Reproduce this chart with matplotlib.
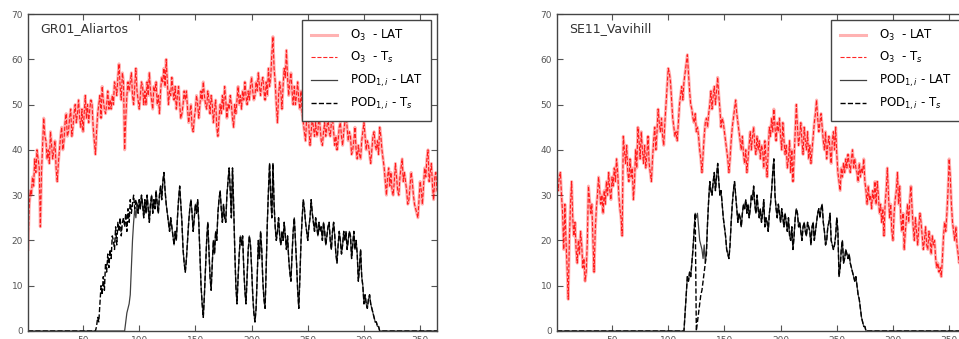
import numpy as np
import matplotlib
matplotlib.use("Agg")
from matplotlib import pyplot as plt

# day of year
days = np.arange(1, 366)

# GR01_Aliartos, O3 (LAT), one value per day
o3_gr = [
    18, 27, 31, 30, 34, 32, 38, 35, 40, 38,
    36, 23, 35, 41, 47, 43, 42, 38, 40, 37,
    44, 41, 38, 40, 42, 36, 33, 37, 40, 43,
    45, 40, 42, 46, 48, 43, 44, 47, 49, 43,
    45, 48, 50, 46, 48, 51, 47, 45, 49, 44,
    48, 52, 47, 50, 46, 49, 51, 50, 45, 42,
    39, 44, 48, 50, 52, 47, 54, 51, 49, 48,
    50, 53, 49, 51, 49, 52, 50, 55, 54, 52,
    56, 59, 54, 51, 57, 55, 40, 47, 52, 55,
    53, 55, 57, 52, 50, 54, 58, 53, 51, 49,
    52, 55, 54, 50, 53, 50, 55, 52, 57, 53,
    51, 49, 54, 53, 55, 50, 52, 48, 53, 56,
    55, 58, 54, 60, 55, 50, 53, 52, 56, 53,
    51, 54, 49, 52, 54, 50, 47, 48, 50, 53,
    51, 53, 49, 46, 48, 50, 45, 44, 47, 49,
    52, 50, 47, 50, 53, 51, 55, 52, 50, 49,
    53, 51, 48, 52, 50, 46, 49, 51, 45, 43,
    47, 50, 48, 52, 49, 54, 51, 47, 50, 49,
    52, 50, 47, 45, 50, 48, 51, 54, 50, 52,
    49, 53, 51, 55, 52, 50, 53, 51, 54, 56,
    53, 51, 52, 55, 53, 57, 54, 52, 55, 56,
    53, 51, 55, 52, 58, 54, 56, 61, 65, 58,
    55, 50, 46, 52, 55, 53, 49, 54, 58, 56,
    62, 56, 52, 55, 57, 53, 50, 54, 50, 52,
    55, 51, 49, 53, 48, 46, 44, 42, 47, 50,
    45, 41, 44, 47, 45, 43, 46, 43, 44, 48,
    45, 42, 41, 44, 46, 43, 45, 47, 44, 43,
    46, 47, 44, 41, 43, 40, 42, 45, 46, 43,
    41, 44, 46, 48, 45, 42, 44, 43, 39, 40,
    42, 45, 40, 38, 41, 39, 38, 42, 44, 46,
    43, 40, 42, 41, 39, 37, 40, 43, 44, 41,
    40, 42, 39, 45, 43, 40, 38, 36, 33, 30,
    34, 36, 32, 35, 31, 30, 33, 37, 34, 31,
    30, 34, 36, 38, 33, 35, 33, 31, 28, 29,
    32, 35, 33, 30, 28, 27, 26, 25, 29, 33,
    31, 28, 32, 36, 34, 38, 40, 33, 35, 37,
    32, 29, 34, 35, 31,
]

# GR01 POD, LAT from day 87, Ts from day 61 (zero outside)
pod_gr_lat_start = 87
pod_gr_lat = [
    0, 2, 4, 5, 6, 8, 14, 20, 24, 27, 25, 28, 26, 29,
    27, 30, 28, 25, 29, 26, 30, 27, 24, 28,
    30, 26, 29, 27, 31, 28, 26, 30, 32, 29,
    33, 35, 31, 28, 26, 24, 22, 25, 23, 21,
    19, 22, 20, 25, 29, 32, 28, 24, 18, 15,
    13, 16, 20, 24, 27, 29, 26, 22, 25, 28,
    26, 29, 24, 17, 10, 6, 3, 8, 14, 20,
    24, 18, 12, 9, 15, 20, 17, 22, 20, 26,
    29, 31, 27, 24, 28, 25, 24, 30, 33, 36,
    31, 25, 36, 28, 18, 10, 6, 12, 17, 21,
    19, 21, 14, 9, 6, 12, 18, 21, 19, 14,
    8, 4, 2, 5, 12, 20, 16, 22, 18, 11,
    7, 5, 14, 24, 31, 37, 30, 25, 37, 28,
    23, 20, 22, 25, 21, 19, 22, 20, 24, 21,
    18, 21, 16, 13, 11, 17, 22, 25, 20, 15,
    9, 5, 12, 20, 25, 29, 27, 24, 22, 20,
    23, 25, 29, 26, 24, 22, 25, 23, 21, 24,
    22, 23, 20, 24, 22, 19, 21, 23, 24, 20,
    18, 22, 24, 21, 17, 15, 19, 22, 20, 17,
    19, 22, 20, 22, 18, 20, 22, 21, 16, 19,
    22, 18, 20, 17, 11, 14, 18, 12, 10, 6,
    8, 6, 5, 7, 8, 6, 5, 4, 3, 2,
    2, 1, 1, 0, 0, 0,
]
pod_gr_ts_start = 61
pod_gr_ts_early = [
    0, 1, 3, 2, 6, 10, 8, 12, 9, 15,
    13, 17, 14, 18, 16, 21, 20, 18, 23, 19,
    24, 22, 25, 21, 24, 25, 23, 26, 22, 27,
    24, 29, 26, 28, 30, 27, 29,
]

# SE11_Vavihill, O3 (LAT)
o3_se = [
    33, 31, 34, 35, 30, 26, 18, 28, 20, 14,
    7, 20, 28, 33, 25, 21, 24, 18, 15, 20,
    17, 22, 19, 14, 16, 11, 13, 20, 32, 29,
    26, 28, 20, 13, 22, 27, 30, 34, 31, 28,
    30, 26, 31, 28, 33, 30, 35, 31, 29, 34,
    32, 36, 33, 38, 35, 30, 27, 25, 21, 43,
    40, 37, 41, 35, 33, 38, 34, 36, 29, 33,
    40, 36, 45, 42, 38, 44, 40, 37, 41, 36,
    39, 43, 37, 35, 33, 38, 42, 45, 40, 44,
    49, 46, 44, 47, 43, 41, 46, 50, 54, 58,
    57, 55, 51, 47, 45, 43, 44, 42, 46, 50,
    52, 54, 51, 55, 57, 59, 61, 57, 53, 50,
    49, 47, 46, 48, 44, 45, 43, 40, 38, 35,
    39, 43, 46, 47, 45, 48, 50, 53, 49, 52,
    54, 50, 53, 56, 52, 49, 45, 47, 46, 44,
    42, 40, 38, 35, 38, 42, 45, 47, 49, 51,
    48, 46, 44, 42, 40, 43, 39, 37, 40, 35,
    38, 41, 44, 40, 43, 45, 41, 39, 43, 40,
    42, 38, 41, 40, 36, 42, 38, 34, 40, 45,
    43, 47, 44, 49, 45, 42, 46, 44, 47, 43,
    40, 46, 42, 39, 41, 36, 38, 42, 35, 40,
    33, 38, 44, 50, 45, 41, 43, 46, 42, 39,
    45, 42, 40, 44, 38, 41, 37, 40, 43, 46,
    48, 51, 47, 44, 46, 48, 45, 42, 40, 44,
    38, 41, 43, 40, 37, 42, 44, 40, 45, 39,
    35, 33, 31, 36, 34, 37, 35, 38, 36, 39,
    37, 35, 38, 40, 36, 38, 36, 35, 33, 37,
    34, 36, 35, 38, 33, 31, 28, 32, 29, 30,
    27, 31, 29, 33, 28, 33, 30, 26, 28, 24,
    27, 21, 28, 31, 36, 30, 25, 28, 22, 20,
    26, 29, 31, 35, 28, 32, 25, 22, 26, 18,
    22, 25, 28, 24, 29, 32, 27, 23, 20, 25,
    22, 19, 23, 26, 24, 21, 18, 20, 23, 19,
    18, 22, 20, 17, 21, 19, 20, 16, 14, 15,
    13, 14, 12, 16, 21, 24, 22, 26, 31, 38,
    34, 28, 24, 22, 20, 23, 19, 17, 15, 18,
    16, 19, 17, 15, 14,
]

pod_se_lat_start = 114
pod_se_lat = [
    0, 4, 8, 12, 11, 13, 12,
    15, 18, 22, 26, 25, 26, 23, 20, 19, 18,
    16, 19, 15, 18, 24, 29, 33, 31, 30, 33,
    35, 31, 34, 37, 33, 30, 31, 28, 25, 23,
    21, 18, 17, 16, 19, 24, 28, 31, 33, 30,
    27, 24, 26, 25, 23, 26, 28, 27, 29, 26,
    28, 25, 27, 30, 29, 32, 28, 26, 30, 27,
    25, 27, 24, 26, 29, 23, 25, 24, 22, 26,
    28, 31, 35, 38, 30, 27, 25, 28, 26, 24,
    27, 25, 23, 26, 24, 22, 25, 21, 20, 23,
    18, 21, 25, 27, 26, 23, 24, 22, 20, 23,
    24, 22, 21, 24, 23, 22, 19, 23, 24, 20,
    22, 24, 26, 27, 25, 27, 28, 24, 22, 19,
    20, 23, 24, 26, 20, 19, 18, 19, 21, 25,
    22, 12, 14, 18, 20, 15, 16, 18, 17, 16,
    17, 15, 14, 13, 12, 11, 12, 10, 8, 7,
    5, 3, 2, 1, 1, 0, 0, 0,
]
pod_se_ts_start = 125
pod_se_ts_early = [0, 2, 4, 6, 8, 9, 11, 13, 15, 17]

sites = ["GR01_Aliartos", "SE11_Vavihill"]
labels = [r"O$_3$  - LAT", r"O$_3$  - T$_s$",
          r"POD$_{1,i}$ - LAT", r"POD$_{1,i}$ - T$_s$"]


def full_year(values, start):
    out = np.zeros(len(days))
    out[start - 1:start - 1 + len(values)] = values
    return out


def pod_series(lat, lat_start, ts_early, ts_start):
    pod_lat = full_year(lat, lat_start)
    pod_ts = pod_lat.copy()
    pod_ts[ts_start - 1:ts_start - 1 + len(ts_early)] = ts_early
    return pod_lat, pod_ts


pod_gr = pod_series(pod_gr_lat, pod_gr_lat_start, pod_gr_ts_early, pod_gr_ts_start)
pod_se = pod_series(pod_se_lat, pod_se_lat_start, pod_se_ts_early, pod_se_ts_start)

panels = [(o3_gr, pod_gr), (o3_se, pod_se)]

fig = plt.figure(figsize=(9.59, 3.39), dpi=100)
ax_pos = [[28 / 959, 8 / 339, 409 / 959, 317 / 339],
          [557 / 959, 8 / 339, 409 / 959, 317 / 339]]

for pos, site, (o3, pod) in zip(ax_pos, sites, panels):
    ax = fig.add_axes(pos)
    ax.plot(days, o3, color="red", lw=2.2, alpha=0.3, label=labels[0])
    ax.plot(days, o3, color="red", lw=0.8, ls="--", alpha=0.85, label=labels[1])
    ax.plot(days, pod[0], color="black", lw=0.9, alpha=0.75, label=labels[2])
    ax.plot(days, pod[1], color="black", lw=1.0, ls="--", label=labels[3])
    ax.set_xlim(1, 365)
    ax.set_ylim(0, 70)
    ax.set_xticks([50, 100, 150, 200, 250, 300, 350])
    ax.set_yticks(range(0, 71, 10))
    ax.tick_params(direction="in", top=True, right=True, length=4,
                   labelsize=6.5, labelcolor="#555555", color="#555555")
    for sp in ax.spines.values():
        sp.set_color("#444444")
        sp.set_linewidth(1.0)
    ax.text(0.03, 0.953, site, transform=ax.transAxes, fontsize=9,
            color="#333333", va="center")
    leg = ax.legend(loc="upper right", fontsize=8.5, labelspacing=0.6,
                    handlelength=2.2, handletextpad=1.1, borderpad=0.7,
                    fancybox=False, framealpha=1, borderaxespad=0.5)
    leg.get_frame().set_edgecolor("#444444")
    leg.get_frame().set_linewidth(1.0)

fig.savefig("out.png", dpi=100)
